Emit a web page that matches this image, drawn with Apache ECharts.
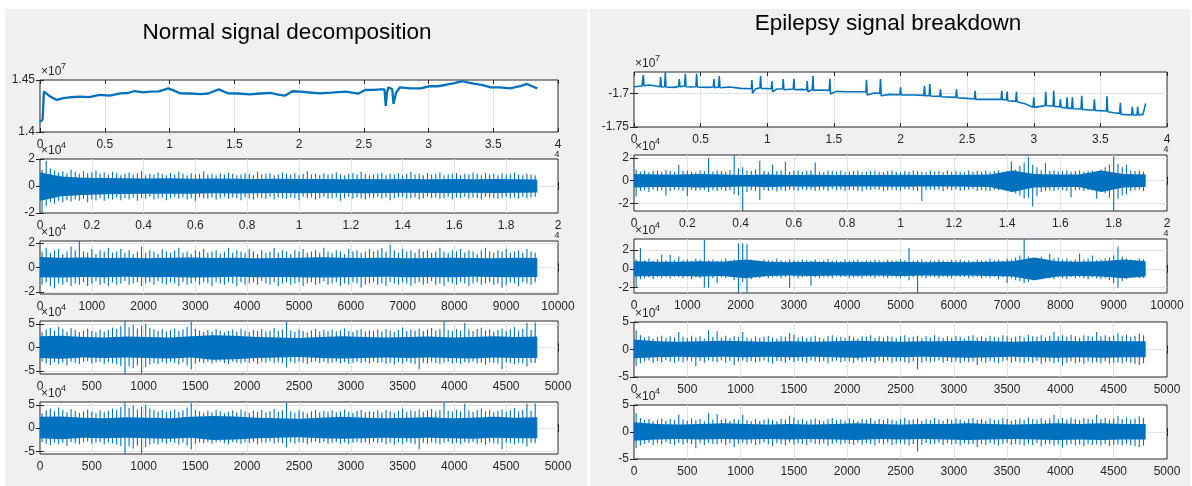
<!DOCTYPE html>
<html>
<head>
<meta charset="utf-8">
<script src="https://cdn.jsdelivr.net/npm/echarts@6/dist/echarts.min.js"></script>
<style>
  html, body { margin: 0; background: #fff; }
  #wrap { position: relative; width: 1192px; height: 486px; }
  .pane { position: absolute; background: #f0f0f0; }
  #chart { position: absolute; left: 0; top: 0; width: 1192px; height: 486px; }
</style>
</head>
<body>
<div id="wrap">
  <div class="pane" style="left:5px;top:9px;width:582px;height:477px"></div>
  <div class="pane" style="left:590px;top:9px;width:600px;height:477px"></div>
  <div id="chart"></div>
</div>
<script>
// --- colours / fonts ---
const BLUE = "#0072BD";
const INK = "#262626";
const FONT = "'Liberation Sans', Arial, sans-serif";

// --- normal signal: approximation (x in 1e4 samples, y in 1e7) ---
const normA_x = [0,0.02,0.03,0.08,0.13,0.18,0.23,0.31,0.38,0.46,0.54,0.62,0.68,0.73,0.8,0.85,0.92,0.99,1.03,1.08,1.16,1.24,1.3,1.38,1.45,1.53,1.62,1.7,1.78,1.84,1.89,1.95,2.01,2.08,2.16,2.25,2.36,2.46,2.51,2.58,2.63,2.66,2.67,2.68,2.69,2.72,2.73,2.75,2.78,2.86,2.94,3.01,3.07,3.13,3.2,3.26,3.31,3.36,3.42,3.48,3.55,3.63,3.68,3.71,3.76,3.8,3.84];
const normA_y = [1.4098,1.412,1.4388,1.434,1.4308,1.4325,1.4334,1.434,1.4335,1.4356,1.435,1.4372,1.4375,1.4394,1.438,1.4388,1.439,1.442,1.44,1.4372,1.437,1.4365,1.437,1.441,1.4372,1.437,1.4362,1.437,1.4377,1.436,1.4349,1.4392,1.4388,1.438,1.4372,1.4378,1.4388,1.437,1.4404,1.4405,1.441,1.441,1.425,1.438,1.443,1.441,1.427,1.438,1.443,1.442,1.442,1.4442,1.444,1.4452,1.447,1.449,1.4475,1.4462,1.445,1.443,1.443,1.442,1.4435,1.4442,1.4462,1.444,1.442];

// --- epilepsy signal: approximation ---
const epiA_x = [0,0.06,0.07,0.075,0.12,0.195,0.2,0.205,0.23,0.235,0.24,0.3,0.335,0.34,0.345,0.38,0.385,0.39,0.43,0.465,0.47,0.475,0.55,0.595,0.6,0.605,0.635,0.64,0.645,0.72,0.8,0.88,0.885,0.89,0.91,0.945,0.95,0.955,1.03,1.035,1.04,1.07,1.115,1.12,1.125,1.195,1.2,1.205,1.26,1.295,1.3,1.305,1.338,1.343,1.348,1.4,1.465,1.47,1.475,1.52,1.6,1.7,1.74,1.745,1.75,1.8,1.845,1.85,1.855,1.92,1.995,2.0,2.005,2.1,2.175,2.18,2.185,2.215,2.22,2.225,2.295,2.3,2.305,2.415,2.42,2.425,2.5,2.555,2.56,2.565,2.68,2.755,2.76,2.765,2.795,2.8,2.805,2.865,2.87,2.875,2.94,2.995,3.0,3.005,3.05,3.085,3.09,3.095,3.145,3.15,3.155,3.195,3.2,3.205,3.245,3.25,3.255,3.285,3.29,3.295,3.355,3.36,3.365,3.42,3.45,3.455,3.46,3.545,3.55,3.555,3.6,3.645,3.65,3.655,3.735,3.74,3.745,3.775,3.78,3.785,3.82,3.835,3.84];
const epiA_y = [-1.6895,-1.6885,-1.672,-1.688,-1.687,-1.6895,-1.675,-1.69,-1.6895,-1.668,-1.69,-1.6905,-1.689,-1.678,-1.6895,-1.6885,-1.67,-1.6895,-1.69,-1.6895,-1.67,-1.69,-1.6905,-1.69,-1.678,-1.691,-1.69,-1.6735,-1.691,-1.69,-1.692,-1.6925,-1.6795,-1.6995,-1.693,-1.691,-1.6735,-1.692,-1.6925,-1.6815,-1.697,-1.693,-1.6925,-1.678,-1.694,-1.693,-1.6775,-1.694,-1.6935,-1.694,-1.681,-1.697,-1.694,-1.6735,-1.695,-1.6945,-1.695,-1.6775,-1.7005,-1.6965,-1.697,-1.697,-1.6975,-1.679,-1.702,-1.699,-1.6995,-1.678,-1.703,-1.701,-1.7015,-1.6904,-1.702,-1.702,-1.7025,-1.6885,-1.703,-1.703,-1.6855,-1.7035,-1.704,-1.6935,-1.7045,-1.7055,-1.6935,-1.706,-1.707,-1.708,-1.6955,-1.7085,-1.7085,-1.7085,-1.6955,-1.709,-1.709,-1.6968,-1.7105,-1.7115,-1.697,-1.712,-1.7155,-1.7205,-1.7055,-1.7205,-1.719,-1.718,-1.697,-1.718,-1.7185,-1.6955,-1.719,-1.7195,-1.7085,-1.7205,-1.7215,-1.7055,-1.722,-1.722,-1.7055,-1.7225,-1.723,-1.703,-1.7235,-1.7245,-1.7245,-1.7085,-1.725,-1.726,-1.704,-1.727,-1.7285,-1.7295,-1.7135,-1.731,-1.732,-1.7195,-1.732,-1.732,-1.7195,-1.732,-1.731,-1.729,-1.7145];

// --- detail levels, y in 1e4: column peaks (120 columns over the signal) and the dense core band ---
const normD1Hi = [1.2,1.85,1.3,1.15,1.0,1.1,0.95,1.2,1.05,0.9, 1.1,0.95,1.0,1.15,0.9,1.0,0.85,1.05,0.95,0.8, 0.9,1.0,0.85,0.95,1.1,0.8,0.9,0.85,1.0,0.9, 0.8,0.95,0.85,1.05,0.9,0.8,0.95,0.85,0.9,1.1, 0.85,0.9,0.8,0.95,0.85,1.0,0.9,0.8,0.85,0.95, 0.9,0.8,1.05,0.85,0.9,0.95,0.8,0.85,1.0,0.9, 0.85,0.95,0.8,0.9,1.1,0.85,0.9,0.8,0.95,0.85, 0.9,1.0,0.85,0.8,0.9,0.95,0.85,1.05,0.9,0.8, 0.85,0.9,1.0,0.8,0.9,0.85,0.95,0.8,0.9,1.05, 0.85,0.9,0.8,0.95,0.85,0.9,1.0,0.8,0.85,0.9, 0.95,0.8,0.9,0.85,1.0,0.9,0.8,0.95,0.85,0.9, 0.8,0.95,0.85,0.9,1.0,0.85,0.8,0.9,0.85,0.8];
const normD1Lo = [-1.95,-1.5,-1.2,-1.3,-1.1,-1.2,-1.05,-1.15,-1.0,-1.1, -0.95,-1.2,-1.0,-1.05,-0.9,-1.1,-0.95,-1.0,-0.85,-1.05, -0.9,-1.0,-0.85,-1.1,-0.9,-0.95,-0.8,-1.0,-0.9,-0.85, -1.05,-0.9,-0.8,-0.95,-0.85,-1.0,-0.9,-1.1,-0.85,-0.9, -0.95,-0.85,-1.0,-0.9,-0.8,-0.95,-0.85,-0.9,-1.05,-0.85, -0.9,-1.0,-0.85,-0.9,-0.95,-0.8,-1.0,-0.85,-0.9,-0.95, -0.85,-0.9,-1.05,-0.8,-0.9,-0.85,-1.0,-0.9,-0.8,-0.95, -0.9,-0.85,-1.1,-0.9,-0.8,-0.95,-0.85,-0.9,-1.0,-0.85, -0.9,-0.8,-0.95,-0.85,-1.05,-0.9,-0.85,-0.8,-0.95,-0.9, -0.85,-1.0,-0.9,-0.8,-0.9,-0.85,-0.95,-0.9,-0.8,-1.0, -0.85,-0.9,-0.8,-0.95,-0.85,-0.9,-1.0,-0.8,-0.85,-0.9, -0.95,-0.85,-0.8,-0.9,-0.85,-0.95,-0.8,-0.9,-0.85,-0.8];
const normD1CoreHi = [1.0,0.7,0.62,0.6,0.58,0.56,0.57,0.54,0.56,0.54,0.52,0.54,0.52,0.52,0.5,0.52,0.5,0.52,0.5,0.52,0.5,0.52,0.5,0.48];
const normD1CoreLo = [-1.1,-0.75,-0.66,-0.62,-0.6,-0.58,-0.57,-0.57,-0.54,-0.56,-0.54,-0.52,-0.54,-0.52,-0.52,-0.54,-0.52,-0.5,-0.52,-0.52,-0.5,-0.52,-0.5,-0.48];

const normD2Hi = [1.3,1.6,1.2,1.4,1.5,1.1,1.3,1.7,1.4,2.15, 1.3,1.2,1.5,1.1,1.4,1.3,1.6,1.2,1.3,1.5, 1.2,1.4,1.1,1.3,1.7,1.2,1.4,1.3,1.1,1.5, 1.3,1.2,1.4,1.6,1.2,1.3,1.1,1.4,1.3,1.5, 1.2,1.3,1.4,1.1,1.3,1.6,1.2,1.4,1.3,1.2, 1.5,1.3,1.1,1.4,1.2,1.3,1.6,1.2,1.4,1.3, 1.1,1.4,1.3,1.5,1.2,1.3,1.4,1.2,1.6,1.3, 1.2,1.4,1.3,1.1,1.5,1.3,1.4,1.2,1.3,1.5, 1.3,1.4,1.6,1.3,1.85,1.4,1.2,1.5,1.3,1.4, 1.2,1.5,1.3,1.4,1.2,1.3,1.6,1.3,1.2,1.4, 1.3,1.5,1.2,1.4,1.3,1.1,1.4,1.6,1.3,1.2, 1.4,1.3,1.5,1.2,1.3,1.4,1.2,1.5,1.3,1.2];
const normD2Lo = [-1.4,-1.2,-1.5,-1.7,-1.3,-1.4,-1.2,-1.5,-1.3,-1.4, -1.2,-1.5,-1.3,-1.1,-1.4,-1.3,-1.5,-1.2,-1.4,-1.3, -1.1,-1.4,-1.3,-1.2,-1.5,-1.3,-1.2,-1.4,-1.1,-1.3, -1.4,-1.2,-1.3,-1.5,-1.2,-1.4,-1.3,-1.1,-1.4,-1.2, -1.3,-1.5,-1.2,-1.3,-1.4,-1.2,-1.3,-1.5,-1.2,-1.4, -1.3,-1.2,-1.4,-1.1,-1.3,-1.4,-1.2,-1.5,-1.3,-1.2, -1.4,-1.3,-1.2,-1.5,-1.3,-1.2,-1.4,-1.3,-1.1,-1.4, -1.3,-1.2,-1.5,-1.3,-1.4,-1.2,-1.3,-1.65,-1.4,-1.3, -1.2,-1.4,-1.3,-1.5,-1.2,-1.3,-1.4,-1.2,-1.3,-1.5, -1.3,-1.2,-1.4,-1.3,-1.1,-1.4,-1.3,-1.5,-1.2,-1.3, -1.4,-1.2,-1.3,-1.5,-1.3,-1.2,-1.4,-1.3,-1.2,-1.4, -1.3,-1.65,-1.4,-1.2,-1.3,-1.5,-1.2,-1.3,-1.4,-1.2];
const normD2CoreHi = [0.85,0.8,0.82,0.78,0.8,0.76,0.8,0.82,0.78,0.8,0.76,0.78,0.8,0.84,0.8,0.78,0.8,0.76,0.78,0.8,0.78,0.76,0.8,0.78];
const normD2CoreLo = [-0.8,-0.82,-0.78,-0.8,-0.76,-0.8,-0.78,-0.82,-0.8,-0.76,-0.8,-0.78,-0.8,-0.82,-0.8,-0.78,-0.76,-0.8,-0.78,-0.8,-0.76,-0.78,-0.8,-0.78];

const normD3Hi = [3.2,3.8,4.2,3.6,4.4,3.9,3.4,4.1,3.7,3.3, 3.6,4.0,3.5,3.2,3.8,3.4,3.7,4.2,3.9,4.5, 5.6,4.3,4.8,4.0,4.6,5.0,4.2,3.8,3.5,3.9, 3.4,3.7,4.0,3.5,3.8,4.4,5.4,3.9,3.6,3.3, 3.7,3.4,3.9,3.6,3.2,3.5,3.8,3.4,4.0,3.6, 3.3,3.7,3.5,3.9,3.4,3.6,4.1,3.5,3.8,5.4, 3.6,3.3,3.8,3.5,3.2,3.6,3.9,3.4,3.7,3.5, 3.8,3.4,3.6,4.0,3.5,3.3,3.7,3.9,3.4,3.6, 3.5,3.8,3.4,3.9,3.6,3.3,3.7,4.2,3.5,3.8, 3.6,4.0,3.5,3.8,4.1,3.6,3.9,5.5,3.7,3.5, 3.9,3.6,5.2,3.8,3.5,3.9,4.2,3.6,3.8,3.4, 3.7,4.0,3.5,3.8,4.3,3.6,3.9,5.2,3.7,5.3];
const normD3Lo = [-3.0,-3.4,-3.7,-3.1,-3.5,-3.2,-3.8,-3.0,-3.3,-3.5, -3.1,-2.9,-3.4,-3.2,-3.0,-3.5,-3.1,-3.3,-3.6,-3.9, -5.6,-4.0,-4.4,-3.8,-5.6,-4.1,-3.6,-3.3,-3.5,-3.1, -3.4,-3.0,-3.2,-3.6,-3.1,-3.8,-4.6,-3.4,-3.1,-3.3, -3.0,-3.4,-3.1,-2.9,-3.3,-3.5,-3.0,-3.2,-3.4,-3.1, -3.3,-3.0,-3.5,-3.1,-3.2,-2.9,-3.4,-3.1,-3.3,-4.2, -3.1,-3.4,-3.0,-3.2,-3.5,-3.1,-2.9,-3.3,-3.0,-3.4, -3.2,-3.0,-3.4,-3.1,-3.5,-3.2,-3.0,-3.3,-3.1,-3.4, -3.0,-3.3,-3.1,-3.5,-3.2,-3.6,-3.1,-3.4,-3.0,-3.3, -3.5,-4.6,-3.2,-3.4,-3.1,-3.3,-3.5,-3.2,-3.0,-3.4, -3.2,-3.5,-3.1,-3.3,-3.0,-3.4,-3.2,-3.6,-3.1,-3.3, -3.4,-4.6,-3.1,-3.3,-3.5,-3.2,-3.4,-4.0,-3.2,-3.3];
const normD3CoreHi = [2.4,2.5,2.2,2.1,2.3,2.2,2.1,2.4,2.6,2.5,2.2,2.1,2.0,2.2,2.4,2.2,2.1,2.2,2.3,2.1,2.2,2.4,2.2,2.3];
const normD3CoreLo = [-2.2,-2.4,-2.1,-2.2,-2.1,-2.2,-2.3,-2.1,-2.6,-2.5,-2.2,-2.1,-2.0,-2.2,-2.3,-2.2,-2.1,-2.2,-2.1,-2.2,-2.3,-2.1,-2.2,-2.2];
// the fourth level looks the same as the third in the figure
const normD4Hi = normD3Hi, normD4Lo = normD3Lo, normD4CoreHi = normD3CoreHi, normD4CoreLo = normD3CoreLo;

const epiD1Hi = [1.0,0.8,0.9,0.75,0.85,0.9,0.8,0.95,0.85,0.8, 1.4,0.85,0.9,0.8,0.75,0.9,0.85,2.0,0.8,0.9, 0.85,0.8,0.95,2.27,1.1,1.2,0.9,0.85,1.0,1.77, 0.9,0.8,1.4,0.85,0.9,1.65,0.8,0.85,0.9,0.8, 0.85,0.9,1.6,0.8,0.75,0.9,0.85,0.8,0.9,0.75, 0.8,0.85,0.9,0.75,0.8,0.85,0.9,0.8,0.75,0.85, 0.9,0.8,0.75,0.85,0.8,0.9,0.85,0.8,0.75,0.9, 0.8,0.85,0.75,0.9,0.8,0.85,0.8,0.75,0.9,0.8, 0.85,0.8,0.9,0.75,0.85,0.9,0.8,0.85,1.7,1.0, 1.3,1.6,2.1,1.4,1.2,0.9,1.55,0.85,0.9,0.8, 0.85,0.9,0.8,0.85,0.9,0.8,0.85,0.9,0.8,1.0, 1.2,1.4,2.15,1.5,1.2,1.4,0.9,0.85,0.9,0.8];
const epiD1Lo = [-1.4,-0.9,-0.85,-1.0,-0.8,-0.9,-0.85,-1.3,-0.9,-0.8, -0.85,-0.9,-1.35,-0.8,-0.9,-0.85,-0.8,-1.0,-0.85,-0.9, -0.8,-0.9,-0.85,-1.2,-1.3,-2.67,-1.0,-0.85,-0.9,-1.7, -0.85,-0.9,-0.8,-0.95,-0.85,-0.9,-0.8,-0.85,-0.9,-0.8, -0.85,-0.8,-0.9,-0.85,-0.8,-0.9,-0.75,-0.85,-0.8,-0.9, -0.8,-0.85,-0.9,-0.95,-0.8,-0.85,-0.75,-0.8,-0.9,-0.85, -0.8,-0.85,-0.9,-0.75,-0.8,-0.85,-0.9,-1.8,-0.85,-0.8, -0.85,-0.8,-0.9,-0.75,-0.85,-0.8,-0.9,-0.85,-0.8,-0.75, -0.9,-0.8,-0.85,-0.9,-0.8,-0.85,-0.75,-0.9,-1.0,-1.1, -1.3,-1.6,-1.5,-2.27,-1.4,-1.0,-0.9,-0.85,-0.9,-0.8, -0.85,-0.9,-1.45,-0.85,-0.8,-0.9,-0.85,-0.8,-1.6,-0.9, -1.1,-1.5,-2.67,-1.6,-1.3,-1.2,-0.9,-0.85,-0.8,-0.9];
const epiD1CoreHi = [0.6,0.55,0.55,0.6,0.55,0.5,0.55,0.5,0.52,0.5,0.5,0.5,0.52,0.5,0.5,0.52,0.55,0.9,0.6,0.55,0.55,0.9,0.6,0.55];
const epiD1CoreLo = [-0.6,-0.55,-0.55,-0.6,-0.55,-0.5,-0.55,-0.5,-0.52,-0.5,-0.5,-0.5,-0.52,-0.5,-0.5,-0.52,-0.55,-1.0,-0.6,-0.55,-0.55,-1.0,-0.6,-0.55];

const epiD2Hi = [1.0,2.2,0.9,1.1,0.85,1.0,1.5,0.9,1.5,0.95, 1.3,0.9,1.0,0.85,1.1,1.0,3.05,0.9,1.0,0.85, 0.9,1.1,0.85,1.0,2.7,2.7,2.6,1.0,0.9,0.85, 1.0,0.9,0.85,1.1,0.9,0.8,1.0,0.9,0.85,1.0, 0.9,0.85,1.0,0.8,0.9,1.05,0.85,0.9,0.8,1.0, 0.85,0.9,1.0,0.8,0.9,0.85,1.0,0.9,0.8,0.95, 0.9,0.85,1.0,0.9,2.2,0.85,0.9,1.0,0.8,0.9, 0.85,1.0,0.9,0.8,0.95,0.9,1.0,0.85,0.9,0.8, 1.0,0.9,0.85,1.1,0.9,1.0,0.85,1.1,1.0,1.2, 1.4,3.16,1.3,1.1,1.0,1.3,1.0,1.6,1.1,1.2, 1.0,1.1,0.9,1.0,1.6,1.0,1.1,1.4,0.9,1.0, 1.1,1.2,1.4,2.35,1.3,1.1,1.0,0.9,1.1,1.0];
const epiD2Lo = [-2.0,-1.1,-1.0,-0.9,-1.1,-0.85,-1.0,-0.9,-1.0,-0.85, -0.9,-1.0,-0.85,-1.1,-0.9,-1.0,-2.0,-2.0,-1.0,-1.5, -0.9,-1.0,-0.85,-1.2,-2.56,-1.4,-2.56,-1.1,-0.9,-1.0, -0.85,-1.0,-0.9,-0.85,-1.0,-0.9,-2.0,-0.85,-1.0,-0.9, -0.85,-1.8,-0.9,-1.0,-0.85,-0.9,-1.0,-0.8,-0.9,-0.85, -1.0,-0.9,-0.85,-1.0,-0.8,-0.9,-1.0,-0.85,-0.9,-1.0, -0.85,-0.9,-1.0,-0.85,-1.2,-0.9,-2.56,-0.9,-1.0,-0.85, -0.9,-1.0,-0.85,-0.9,-1.0,-0.8,-0.9,-0.85,-1.0,-0.9, -0.85,-1.0,-0.9,-1.0,-0.85,-1.1,-0.9,-1.5,-1.0,-1.2, -1.3,-1.5,-1.4,-1.2,-1.0,-1.1,-0.9,-1.0,-1.1,-0.9, -1.0,-1.1,-0.9,-1.0,-0.9,-1.0,-1.1,-0.9,-1.0,-1.1, -1.0,-1.2,-1.5,-2.0,-1.3,-1.1,-1.0,-0.9,-1.0,-0.95];
const epiD2CoreHi = [0.8,0.75,0.75,0.8,0.75,1.0,0.75,0.7,0.75,0.7,0.72,0.7,0.75,0.7,0.72,0.7,0.75,0.8,1.2,0.8,0.75,0.8,1.0,0.8];
const epiD2CoreLo = [-0.8,-0.75,-0.75,-0.8,-0.75,-1.0,-0.75,-0.7,-0.75,-0.7,-0.72,-0.7,-0.75,-0.7,-0.72,-0.7,-0.75,-0.8,-1.2,-0.8,-0.75,-0.8,-1.0,-0.8];

const epiD3Hi = [3.5,2.6,2.2,2.4,2.0,2.3,2.5,2.1,2.4,2.2, 3.2,2.3,2.1,2.5,2.2,2.4,2.0,3.5,2.3,3.3, 2.2,2.5,2.1,2.4,2.3,3.2,2.2,2.0,2.4,2.1, 2.3,2.5,2.2,2.0,2.4,2.3,3.0,2.7,2.2,2.4, 2.1,2.3,2.5,2.2,2.0,2.4,2.6,2.2,2.3,2.1, 2.5,2.2,2.0,2.4,2.3,2.6,2.1,2.4,2.2,2.5, 2.3,2.1,2.4,2.6,2.2,2.3,2.5,2.1,2.4,2.2, 2.6,2.3,2.1,2.4,2.2,2.5,2.3,2.0,2.4,2.6, 2.2,2.4,2.1,2.5,2.3,2.2,2.6,2.4,2.1,2.3, 2.5,2.2,2.7,2.4,2.3,2.6,2.2,2.5,3.2,2.4, 2.6,2.3,2.7,2.4,2.2,2.6,2.5,2.3,3.2,2.4, 2.6,2.3,2.5,3.0,2.4,2.7,2.3,2.5,2.9,2.6];
const epiD3Lo = [-3.0,-2.5,-2.2,-2.0,-2.4,-2.1,-2.3,-1.9,-2.2,-2.4, -2.1,-2.3,-2.0,-2.2,-3.0,-2.1,-2.4,-2.0,-2.2,-2.3, -2.0,-2.4,-2.1,-2.8,-2.2,-2.0,-2.3,-2.1,-2.4,-2.2, -2.0,-2.3,-2.6,-2.1,-2.2,-2.4,-2.0,-2.3,-2.1,-2.2, -2.4,-2.0,-2.2,-2.3,-2.1,-2.5,-2.2,-2.0,-2.3,-2.1, -2.2,-2.4,-2.0,-2.3,-2.1,-2.2,-2.5,-2.1,-2.3,-2.0, -2.4,-2.2,-2.1,-2.3,-2.5,-2.2,-3.6,-2.4,-2.1,-2.3, -2.2,-2.0,-2.4,-2.1,-2.3,-2.2,-2.5,-2.1,-2.3,-2.2, -2.8,-2.2,-2.4,-2.1,-2.3,-2.5,-2.2,-2.0,-2.4,-2.2, -2.3,-2.5,-2.2,-2.4,-2.1,-2.6,-2.3,-2.2,-2.5,-2.3, -2.9,-2.4,-2.2,-2.5,-2.3,-2.6,-2.2,-2.4,-2.3,-2.5, -2.2,-2.6,-2.4,-2.3,-2.5,-2.2,-2.4,-2.6,-2.8,-2.5];
const epiD3CoreHi = [1.8,1.5,1.4,1.5,1.6,1.5,1.4,1.5,1.4,1.5,1.6,1.5,1.4,1.5,1.5,1.6,1.5,1.4,1.5,1.6,1.5,1.6,1.5,1.5];
const epiD3CoreLo = [-1.6,-1.4,-1.3,-1.4,-1.3,-1.4,-1.3,-1.4,-1.3,-1.4,-1.5,-1.3,-1.4,-1.3,-1.4,-1.5,-1.4,-1.3,-1.4,-1.5,-1.4,-1.5,-1.4,-1.4];
const epiD4Hi = epiD3Hi, epiD4Lo = epiD3Lo, epiD4CoreHi = epiD3CoreHi, epiD4CoreLo = epiD3CoreLo;

// --- subplot layout ---
const panels = [
  { box: [40, 80, 518, 52],  xMax: 4, xStep: 0.5, yMin: 1.4, yMax: 1.45, yTicks: [1.4, 1.45], trace: [normA_x, normA_y], lw: 2.3, exp: "7", xExpTip: true },
  { box: [40, 159, 518, 54], xMax: 2, xStep: 0.2, yMin: -2, yMax: 2, yTicks: [-2, 0, 2], xEnd: 1.92, noise: [normD1Hi, normD1Lo, normD1CoreHi, normD1CoreLo], exp: "4", xExpTip: true },
  { box: [40, 241, 518, 53], xMax: 10000, xStep: 1000, yMin: -2.15, yMax: 2.15, yTicks: [-2, 0, 2], xEnd: 9600, noise: [normD2Hi, normD2Lo, normD2CoreHi, normD2CoreLo], exp: "4" },
  { box: [40, 321, 518, 53], xMax: 5000, xStep: 500, yMin: -5.6, yMax: 5.6, yTicks: [-5, 0, 5], xEnd: 4800, noise: [normD3Hi, normD3Lo, normD3CoreHi, normD3CoreLo], exp: "4" },
  { box: [40, 402, 518, 52], xMax: 5000, xStep: 500, yMin: -5.6, yMax: 5.6, yTicks: [-5, 0, 5], xEnd: 4800, noise: [normD4Hi, normD4Lo, normD4CoreHi, normD4CoreLo], exp: "4" },

  { box: [634, 72, 533, 55],  xMax: 4, xStep: 0.5, yMin: -1.75, yMax: -1.6674, yTicks: [-1.75, -1.7], trace: [epiA_x, epiA_y], lw: 1.6, exp: "7", xExpTip: true },
  { box: [634, 155, 533, 56], xMax: 2, xStep: 0.2, yMin: -2.67, yMax: 2.27, yTicks: [-2, 0, 2], xEnd: 1.92, noise: [epiD1Hi, epiD1Lo, epiD1CoreHi, epiD1CoreLo], exp: "4", xExpTip: true },
  { box: [634, 239, 533, 54], xMax: 10000, xStep: 1000, yMin: -2.56, yMax: 3.16, yTicks: [-2, 0, 2], xEnd: 9600, noise: [epiD2Hi, epiD2Lo, epiD2CoreHi, epiD2CoreLo], exp: "4" },
  { box: [634, 322, 533, 55], xMax: 5000, xStep: 500, yMin: -5, yMax: 5, yTicks: [-5, 0, 5], xEnd: 4800, noise: [epiD3Hi, epiD3Lo, epiD3CoreHi, epiD3CoreLo], exp: "4" },
  { box: [634, 405, 533, 54], xMax: 5000, xStep: 500, yMin: -5, yMax: 5, yTicks: [-5, 0, 5], xEnd: 4800, noise: [epiD4Hi, epiD4Lo, epiD4CoreHi, epiD4CoreLo], exp: "4" },
];

const fmt = (v) => String(+(+v).toFixed(4));
const tickStyle = { inside: true, length: 4, lineStyle: { color: INK, width: 1 } };
const labelStyle = { color: INK, fontSize: 12, fontFamily: FONT };
const gridLine = { show: true, showMinLine: false, showMaxLine: false, lineStyle: { color: "#e2e2e2", width: 1 } };

const grid = [], xAxis = [], yAxis = [], series = [], graphic = [];

panels.forEach((p, k) => {
  const [left, top, width, height] = p.box;
  grid.push({ left, top, width, height, show: true, backgroundColor: "#fff", borderColor: INK, borderWidth: 1 });

  // bottom + mirrored top axis
  xAxis.push({
    gridIndex: k, type: "value", min: 0, max: p.xMax, interval: p.xStep,
    axisLine: { show: false }, axisTick: tickStyle, splitLine: gridLine,
    axisLabel: { ...labelStyle, margin: 7, formatter: fmt, showMinLabel: true, showMaxLabel: true },
  });
  xAxis.push({
    gridIndex: k, type: "value", position: "top", min: 0, max: p.xMax, interval: p.xStep,
    axisLine: { show: false }, axisTick: tickStyle, axisLabel: { show: false }, splitLine: { show: false },
  });
  // left + mirrored right axis
  yAxis.push({
    gridIndex: k, type: "value", min: p.yMin, max: p.yMax,
    axisLine: { show: false },
    axisTick: { ...tickStyle, customValues: p.yTicks },
    axisLabel: { ...labelStyle, margin: 5, customValues: p.yTicks, formatter: fmt },
    splitLine: { show: false },
  });
  yAxis.push({
    gridIndex: k, type: "value", position: "right", min: p.yMin, max: p.yMax,
    axisLine: { show: false },
    axisTick: { ...tickStyle, customValues: p.yTicks },
    axisLabel: { show: false }, splitLine: { show: false },
  });

  const xi = 2 * k, yi = 2 * k;
  const inner = p.yTicks.filter((t) => t > p.yMin + 1e-9 && t < p.yMax - 1e-9);

  // horizontal grid lines at inner y ticks, under the signal
  if (inner.length) {
    series.push({
      type: "line", xAxisIndex: xi, yAxisIndex: yi, data: [], silent: true, z: 0,
      markLine: {
        silent: true, symbol: "none", label: { show: false }, z: 0,
        lineStyle: { color: "#e2e2e2", type: "solid", width: 1 },
        data: inner.map((t) => ({ yAxis: t })),
      },
    });
  }

  if (p.trace) {
    const [tx, ty] = p.trace;
    series.push({
      type: "line", xAxisIndex: xi, yAxisIndex: yi, showSymbol: false, silent: true, z: 3,
      data: tx.map((x, i) => [x, ty[i]]),
      lineStyle: { color: BLUE, width: p.lw },
    });
  } else {
    const [hi, lo, cHi, cLo] = p.noise;
    const step = p.xEnd / hi.length;
    const cStep = p.xEnd / (cHi.length - 1);
    // one vertical stroke per column, from its lowest to its highest value
    series.push({
      type: "custom", xAxisIndex: xi, yAxisIndex: yi, silent: true, z: 2, clip: true,
      encode: { x: 0, y: [1, 2] },
      data: hi.map((v, i) => [(i + 0.5) * step, lo[i], v]),
      renderItem: (params, api) => {
        const a = api.coord([api.value(0), api.value(1)]);
        const b = api.coord([api.value(0), api.value(2)]);
        return { type: "line", shape: { x1: a[0], y1: a[1], x2: b[0], y2: b[1] }, style: { stroke: BLUE, lineWidth: 1.1 } };
      },
    });
    // dense core band
    series.push({
      type: "custom", xAxisIndex: xi, yAxisIndex: yi, silent: true, z: 3, clip: true,
      data: [[0, 0]],
      renderItem: (params, api) => {
        const up = cHi.map((v, j) => api.coord([j * cStep, v]));
        const dn = cLo.map((v, j) => api.coord([j * cStep, v])).reverse();
        return { type: "polygon", shape: { points: up.concat(dn) }, style: { fill: BLUE } };
      },
    });
  }

  // exponent label above the axes: x10 with a raised power
  graphic.push({
    type: "text", x: left + 1, y: top - 8,
    style: { text: "×10", font: `12px ${FONT}`, fill: INK, align: "left", verticalAlign: "middle" },
  });
  graphic.push({
    type: "text", x: left + 21, y: top - 13,
    style: { text: p.exp, font: `9px ${FONT}`, fill: INK, align: "left", verticalAlign: "middle" },
  });
  // power of the x exponent peeking out above the next axes
  if (p.xExpTip) {
    graphic.push({
      type: "text", x: left + width - 1, y: top + height + 23,
      style: { text: "4", font: `9px ${FONT}`, fill: INK, align: "center", verticalAlign: "middle" },
    });
  }
});

graphic.push({
  type: "text", x: 287, y: 33,
  style: { text: "Normal signal decomposition", font: `22.5px ${FONT}`, fill: "#000", align: "center", verticalAlign: "middle" },
});
graphic.push({
  type: "text", x: 888, y: 24,
  style: { text: "Epilepsy signal breakdown", font: `22.5px ${FONT}`, fill: "#000", align: "center", verticalAlign: "middle" },
});

const chart = echarts.init(document.getElementById("chart"), null, { renderer: "canvas" });
chart.setOption({
  backgroundColor: "transparent",
  animation: false,
  grid, xAxis, yAxis, series, graphic,
});
</script>
</body>
</html>
